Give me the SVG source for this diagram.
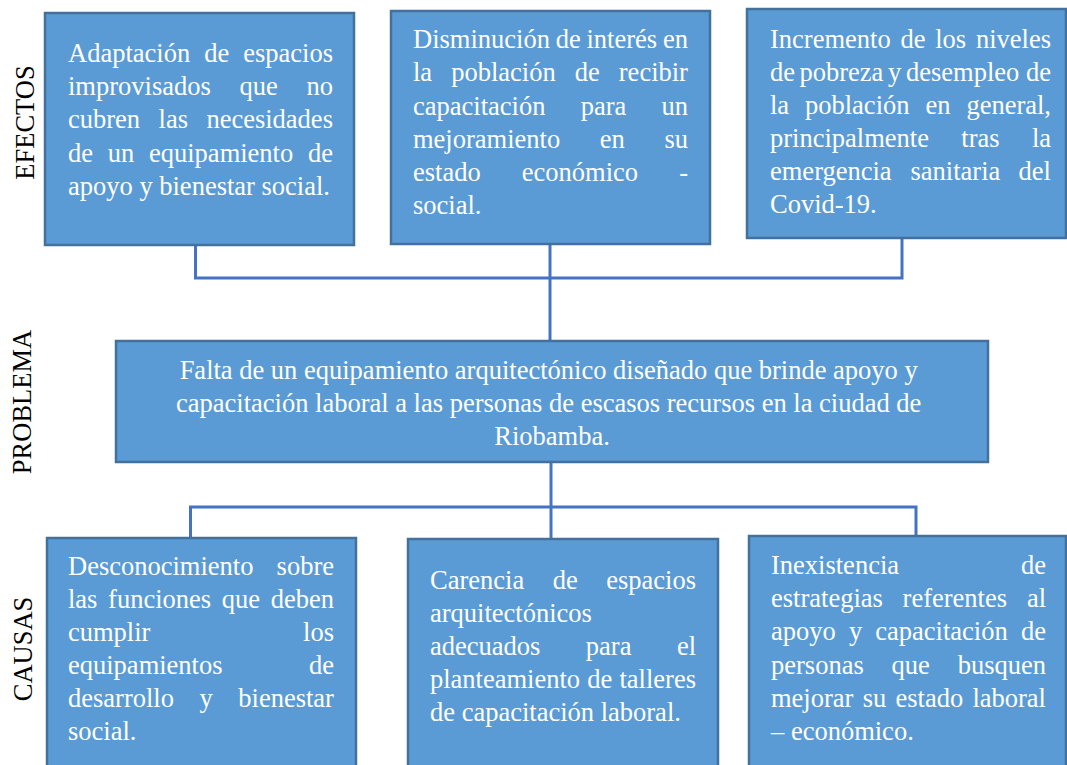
<svg xmlns="http://www.w3.org/2000/svg" width="1067" height="765" viewBox="0 0 1067 765">
<style>
.box{fill:#5B9BD5;stroke:#41719C;stroke-width:2.5}
.t{font-family:"Liberation Serif","Times New Roman",serif;font-size:26.5px;fill:#FFFFFF}
.lbl{font-family:"Liberation Serif","Times New Roman",serif;font-size:26.5px;fill:#000000;text-anchor:middle}
.c{fill:none;stroke:#4472C4;stroke-width:3}
</style>
<rect width="1067" height="765" fill="#FFFFFF"/>
<g id="labels">
<text class="lbl" transform="translate(34,122.5) rotate(-90)">EFECTOS</text>
<text class="lbl" transform="translate(31,402) rotate(-90)">PROBLEMA</text>
<text class="lbl" transform="translate(32,649) rotate(-90)">CAUSAS</text>
</g>
<g id="connectors">
<path class="c" d="M195.5,245 V278 H902 V238"/>
<path class="c" d="M550,244 V341"/>
<path class="c" d="M551,462 V539"/>
<path class="c" d="M190.5,538 V507 H916 V536"/>
</g>
<g id="efecto1">
<rect class="box" x="45" y="13" width="309" height="232"/>
<text class="t">
<tspan x="68" y="62">Adaptación</tspan><tspan x="204.2" y="62">de</tspan><tspan x="243.2" y="62">espacios</tspan>
<tspan x="68" y="95">improvisados</tspan><tspan x="239.5" y="95">que</tspan><tspan x="306.5" y="95">no</tspan>
<tspan x="68" y="128">cubren</tspan><tspan x="158.6" y="128">las</tspan><tspan x="206.4" y="128">necesidades</tspan>
<tspan x="68" y="161.5">de</tspan><tspan x="107.8" y="161.5">un</tspan><tspan x="149" y="161.5">equipamiento</tspan><tspan x="308" y="161.5">de</tspan>
<tspan x="68" y="195">apoyo y bienestar social.</tspan>
</text>
</g>
<g id="efecto2">
<rect class="box" x="391" y="11" width="319" height="233"/>
<text class="t">
<tspan x="413" y="48">Disminución</tspan><tspan x="555.7" y="48">de</tspan><tspan x="586.5" y="48">interés</tspan><tspan x="663" y="48">en</tspan>
<tspan x="413" y="81">la</tspan><tspan x="451.2" y="81">población</tspan><tspan x="574.8" y="81">de</tspan><tspan x="618.8" y="81">recibir</tspan>
<tspan x="413" y="114.5">capacitación</tspan><tspan x="580.7" y="114.5">para</tspan><tspan x="661.5" y="114.5">un</tspan>
<tspan x="413" y="147.5">mejoramiento</tspan><tspan x="599.8" y="147.5">en</tspan><tspan x="664.4" y="147.5">su</tspan>
<tspan x="413" y="180.5">estado</tspan><tspan x="521.8" y="180.5">económico</tspan><tspan x="679.2" y="180.5">-</tspan>
<tspan x="413" y="213.5">social.</tspan>
</text>
</g>
<g id="efecto3">
<rect class="box" x="747" y="9" width="319" height="229"/>
<text class="t">
<tspan x="770" y="47.5">Incremento</tspan><tspan x="900.4" y="47.5">de</tspan><tspan x="935.2" y="47.5">los</tspan><tspan x="975.9" y="47.5">niveles</tspan>
<tspan x="770" y="80.5">de</tspan><tspan x="799.5" y="80.5">pobreza</tspan><tspan x="888" y="80.5">y</tspan><tspan x="906" y="80.5">desempleo</tspan><tspan x="1026" y="80.5">de</tspan>
<tspan x="770" y="113.5">la</tspan><tspan x="805" y="113.5">población</tspan><tspan x="925.4" y="113.5">en</tspan><tspan x="966.4" y="113.5">general,</tspan>
<tspan x="770" y="147">principalmente</tspan><tspan x="961.3" y="147">tras</tspan><tspan x="1031.9" y="147">la</tspan>
<tspan x="770" y="180">emergencia</tspan><tspan x="910.5" y="180">sanitaria</tspan><tspan x="1018.6" y="180">del</tspan>
<tspan x="770" y="213">Covid-19.</tspan>
</text>
</g>
<g id="problema">
<rect class="box" x="116" y="341" width="872" height="121"/>
<text class="t" text-anchor="middle">
<tspan x="552" y="378.5">Falta de un equipamiento arquitectónico diseñado que brinde apoyo y</tspan>
<tspan x="552" y="411.5">capacitación laboral a las personas de escasos recursos en la ciudad de</tspan>
<tspan x="552" y="444.5">Riobamba.</tspan>
</text>
</g>
<g id="causa1">
<rect class="box" x="47" y="538" width="309" height="240"/>
<text class="t">
<tspan x="68" y="574.5">Desconocimiento</tspan><tspan x="276.6" y="574.5">sobre</tspan>
<tspan x="68" y="607.5">las</tspan><tspan x="108.1" y="607.5">funciones</tspan><tspan x="221.8" y="607.5">que</tspan><tspan x="270.7" y="607.5">deben</tspan>
<tspan x="68" y="640.5">cumplir</tspan><tspan x="303.1" y="640.5">los</tspan>
<tspan x="68" y="673.5">equipamientos</tspan><tspan x="309" y="673.5">de</tspan>
<tspan x="68" y="706.5">desarrollo</tspan><tspan x="199.5" y="706.5">y</tspan><tspan x="238.3" y="706.5">bienestar</tspan>
<tspan x="68" y="739.5">social.</tspan>
</text>
</g>
<g id="causa2">
<rect class="box" x="408" y="539" width="310" height="240"/>
<text class="t">
<tspan x="430" y="588.5">Carencia</tspan><tspan x="552.7" y="588.5">de</tspan><tspan x="606.2" y="588.5">espacios</tspan>
<tspan x="430" y="621.5">arquitectónicos</tspan>
<tspan x="430" y="654.5">adecuados</tspan><tspan x="585.8" y="654.5">para</tspan><tspan x="676.9" y="654.5">el</tspan>
<tspan x="430" y="688">planteamiento</tspan><tspan x="587.3" y="688">de</tspan><tspan x="619.5" y="688">talleres</tspan>
<tspan x="430" y="721">de capacitación laboral.</tspan>
</text>
</g>
<g id="causa3">
<rect class="box" x="749" y="536" width="317" height="240"/>
<text class="t">
<tspan x="771" y="574">Inexistencia</tspan><tspan x="1021" y="574">de</tspan>
<tspan x="771" y="607">estrategias</tspan><tspan x="902.6" y="607">referentes</tspan><tspan x="1026.9" y="607">al</tspan>
<tspan x="771" y="640">apoyo</tspan><tspan x="848.9" y="640">y</tspan><tspan x="875.3" y="640">capacitación</tspan><tspan x="1021" y="640">de</tspan>
<tspan x="771" y="673.5">personas</tspan><tspan x="891.6" y="673.5">que</tspan><tspan x="957.7" y="673.5">busquen</tspan>
<tspan x="771" y="706.5">mejorar</tspan><tspan x="862.7" y="706.5">su</tspan><tspan x="895.5" y="706.5">estado</tspan><tspan x="972.4" y="706.5">laboral</tspan>
<tspan x="771" y="739.5">– económico.</tspan>
</text>
</g>
</svg>
